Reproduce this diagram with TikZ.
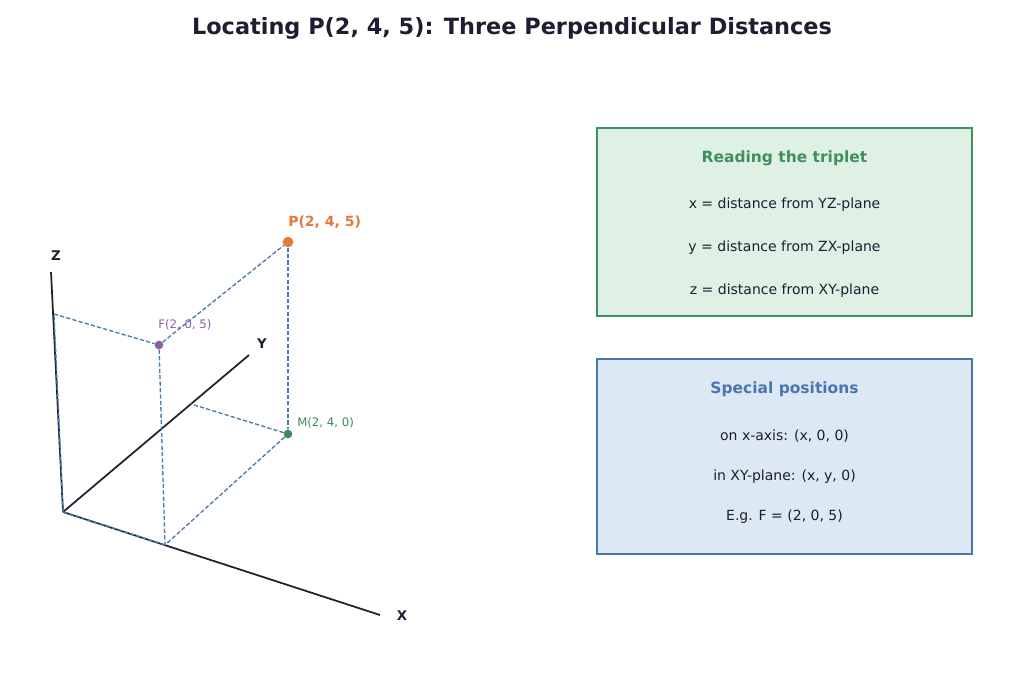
\documentclass[tikz,border=0pt]{standalone}
\usepackage{fontspec}
\setmainfont{DejaVu Sans}
\usetikzlibrary{positioning}
\definecolor{titlecol}{HTML}{1E1E32}
\definecolor{guidecol}{HTML}{4A7AB0}
\definecolor{pcol}{HTML}{E07B39}
\definecolor{fcol}{HTML}{8B5DAA}
\definecolor{mcol}{HTML}{3A8A5A}
\definecolor{greenfill}{HTML}{DFF0E4}
\definecolor{greenline}{HTML}{3F8F5F}
\definecolor{bluefill}{HTML}{DCE8F4}
\definecolor{blueline}{HTML}{4A76B0}
\tikzstyle{axis} = [line width=1.3pt, draw=titlecol]
\tikzstyle{guide} = [line width=1pt, draw=guidecol, dash pattern=on 3.2pt off 1.6pt]
\tikzstyle{axislabel} = [font=\fontsize{10}{12}\selectfont\bfseries, text=titlecol]
\tikzstyle{dot} = [circle, inner sep=0pt, minimum size=6.5pt]
\tikzstyle{infobox} = [rectangle, line width=1.6pt, minimum width=281.25pt]
\tikzstyle{heading} = [font=\fontsize{11.6}{13}\selectfont\bfseries]
\tikzstyle{entry} = [font=\fontsize{10.5}{12}\selectfont, text=titlecol]

\begin{document}
\begin{tikzpicture}[x=0.75pt, y=-0.75pt]
\useasboundingbox (0,0) rectangle (1024,683);
\node (title) at (512,28) [font=\fontsize{16.8}{20}\selectfont\bfseries, text=titlecol] {Locating P(2, 4, 5): Three Perpendicular Distances};

% axes
\coordinate (O) at (63,512);
\coordinate (zend) at (51,272);
\coordinate (yend) at (249,355);
\coordinate (xend) at (380,615);
\draw [axis] (O) -- (zend);
\draw [axis] (O) -- (yend);
\draw [axis] (O) -- (xend);
\node (zlab) at (56,256) [axislabel] {Z};
\node (ylab) at (262,344) [axislabel] {Y};
\node (xlab) at (402,616) [axislabel] {X};

% feet on the axes
\coordinate (z5) at (54,314);
\coordinate (x2) at (165,545);
\coordinate (y4) at (191,404);

% points
\node (P) at (288,242) [dot, fill=pcol, minimum size=8pt] {};
\node (F) at (159,345) [dot, fill=fcol] {};
\node (M) at (288,434) [dot, fill=mcol] {};
\node (Plab) at (288,222) [anchor=west, inner sep=0pt, font=\fontsize{10.5}{12}\selectfont\bfseries, text=pcol] {P(2, 4, 5)};
\node (Flab) at (158,325) [anchor=west, inner sep=0pt, font=\fontsize{8.8}{10}\selectfont, text=fcol] {F(2, 0, 5)};
\node (Mlab) at (297,423) [anchor=west, inner sep=0pt, font=\fontsize{8.8}{10}\selectfont, text=mcol] {M(2, 4, 0)};

% perpendiculars
\draw [guide] (O) -- (z5);
\draw [guide] (O) -- (x2);
\draw [guide] (z5) -- (F);
\draw [guide] (F) -- (P);
\draw [guide] (P) -- (M);
\draw [guide] (M) -- (y4);
\draw [guide] (M) -- (x2);
\draw [guide] (F) -- (x2);

% info boxes
\node (triplet) at (784.5,222) [infobox, minimum height=141pt, draw=greenline, fill=greenfill] {};
\node (tripthead) at (784.5,158) [heading, text=greenline] {Reading the triplet};
\node (tx) at (784.5,205) [entry] {x = distance from YZ-plane};
\node (ty) at (784.5,248) [entry] {y = distance from ZX-plane};
\node (tz) at (784.5,291) [entry] {z = distance from XY-plane};

\node (special) at (784.5,456.5) [infobox, minimum height=146.25pt, draw=blueline, fill=bluefill] {};
\node (spechead) at (784.5,389) [heading, text=blueline] {Special positions};
\node (sx) at (784.5,436) [entry] {on x-axis: (x, 0, 0)};
\node (sxy) at (784.5,477) [entry] {in XY-plane: (x, y, 0)};
\node (seg) at (784.5,517) [entry] {E.g. F = (2, 0, 5)};
\end{tikzpicture}
\end{document}
